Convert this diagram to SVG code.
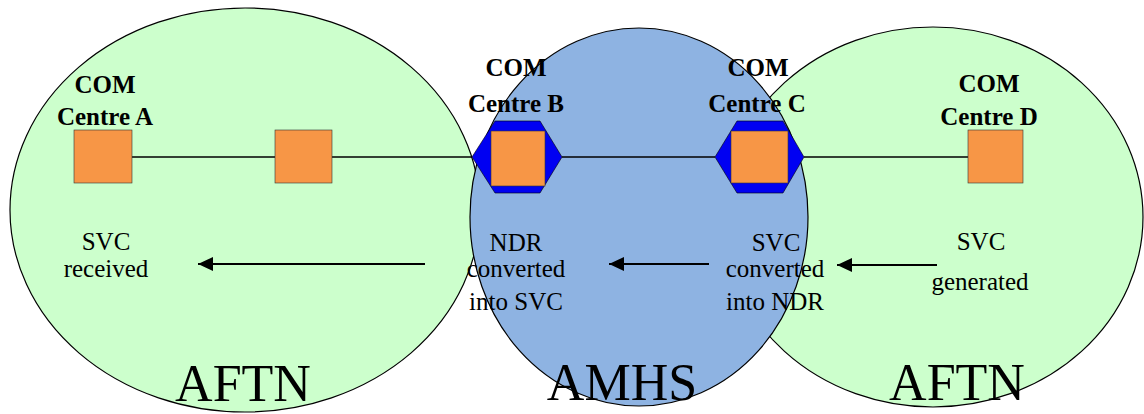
<svg xmlns="http://www.w3.org/2000/svg" width="1144" height="414" viewBox="0 0 1144 414">
<defs>
<style>
.net{stroke:#000;stroke-width:1.2}
.green{fill:#CCFFCC}
.blue{fill:#8EB3E2}
.hex{fill:#0000F2;stroke:#000;stroke-width:0.6}
.sq{fill:#F79646;stroke:#333;stroke-width:0.6}
.link{stroke:#000;stroke-width:1.5;fill:none}
.arr{stroke:#000;stroke-width:2;fill:none;marker-end:url(#ah)}
text{font-family:'Liberation Serif','Times New Roman',Times,serif;text-anchor:middle;fill:#000}
.b{font-weight:bold;font-size:25px}
.t{font-size:25px}
.big{font-size:52px}
</style>
<marker id="ah" markerWidth="16" markerHeight="14" refX="15" refY="7" orient="auto" markerUnits="userSpaceOnUse">
<path d="M0,0 L15,7 L0,14 Z" fill="#000"/>
</marker>
</defs>
<rect width="1144" height="414" fill="#fff"/>
<g id="aftn-left"><ellipse class="net green" cx="245" cy="210" rx="235" ry="202"/></g>
<g id="aftn-right"><ellipse class="net green" cx="933" cy="217" rx="210" ry="190"/></g>
<g id="amhs"><ellipse class="net blue" cx="639" cy="217" rx="169" ry="189"/></g>
<g id="connectors">
<line class="link" x1="132" y1="157" x2="275" y2="157"/>
<line class="link" x1="332" y1="157" x2="472" y2="157"/>
<line class="link" x1="562" y1="157" x2="715" y2="157"/>
<line class="link" x1="804" y1="157" x2="968" y2="157"/>
<line class="arr" x1="425" y1="264" x2="198" y2="264"/>
<line class="arr" x1="709" y1="264" x2="609" y2="264"/>
<line class="arr" x1="937" y1="265" x2="837" y2="265"/>
</g>
<g id="centre-a">
<rect class="sq" x="74" y="130" width="58" height="53"/>
<text class="b" x="105" y="93" font-family="Liberation Serif">COM</text>
<text class="b" x="105" y="125" font-family="Liberation Serif">Centre A</text>
</g>
<g id="relay">
<rect class="sq" x="275" y="130" width="57" height="53"/>
</g>
<g id="centre-b">
<polygon class="hex" points="472,157 495,121 540,121 562,157 540,193 495,193"/>
<rect class="sq" x="491" y="131" width="54" height="55"/>
<text class="b" x="516" y="76">COM</text>
<text class="b" x="516" y="112">Centre B</text>
</g>
<g id="centre-c">
<polygon class="hex" points="715,157 737,121 783,121 804,157 783,193 737,193"/>
<rect class="sq" x="731" y="131" width="57" height="52"/>
<text class="b" x="758" y="76">COM</text>
<text class="b" x="757" y="112">Centre C</text>
</g>
<g id="centre-d">
<rect class="sq" x="968" y="130" width="55" height="53"/>
<text class="b" x="989" y="92">COM</text>
<text class="b" x="989" y="125">Centre D</text>
</g>
<g id="labels">
<text class="t" x="106" y="250">SVC</text>
<text class="t" x="106" y="277">received</text>
<text class="t" x="516" y="251">NDR</text>
<text class="t" x="516" y="277">converted</text>
<text class="t" x="516" y="310">into SVC</text>
<text class="t" x="776" y="251">SVC</text>
<text class="t" x="775" y="277">converted</text>
<text class="t" x="775" y="310">into NDR</text>
<text class="t" x="981" y="250">SVC</text>
<text class="t" x="980" y="290">generated</text>
<text class="big" x="243" y="401">AFTN</text>
<text class="big" x="622" y="400">AMHS</text>
<text class="big" x="957" y="400">AFTN</text>
</g>
</svg>
